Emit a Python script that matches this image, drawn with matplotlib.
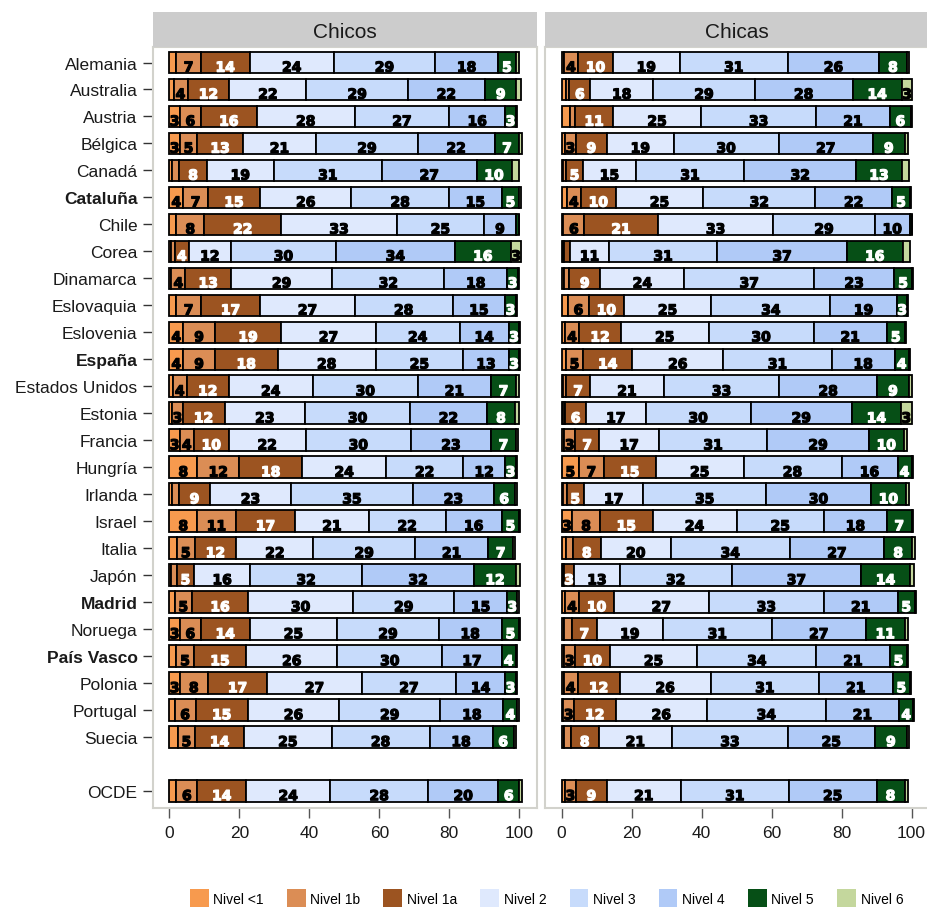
import matplotlib
matplotlib.use('Agg')
import matplotlib.pyplot as plt
from matplotlib.patches import Patch
import matplotlib.patheffects as pe
import numpy as np

plt.rcParams['font.family'] = ['Liberation Sans', 'DejaVu Sans']

paises = ['Alemania', 'Australia', 'Austria', 'Bélgica', 'Canadá', 'Cataluña', 'Chile',
          'Corea', 'Dinamarca', 'Eslovaquia', 'Eslovenia', 'España', 'Estados Unidos',
          'Estonia', 'Francia', 'Hungría', 'Irlanda', 'Israel', 'Italia', 'Japón',
          'Madrid', 'Noruega', 'País Vasco', 'Polonia', 'Portugal', 'Suecia', 'OCDE']
destacados = ['Cataluña', 'España', 'Madrid', 'País Vasco']
niveles = ['Nivel <1', 'Nivel 1b', 'Nivel 1a', 'Nivel 2', 'Nivel 3', 'Nivel 4', 'Nivel 5', 'Nivel 6']
colores = ['#f79a4e', '#db8d55', '#9c5421', '#dfe9fd', '#c7dbfb', '#b0caf7', '#064f16', '#c4d79d']

# porcentajes de alumnos por nivel (chicos)
chicos_n0 = [2, 1.2, 3, 3, 0.8, 4, 2, 0.4, 0.6, 2, 4, 4, 1, 0.8, 3, 8, 0.7, 8, 2.2, 0.6, 1.5, 3, 2, 3, 1.5, 2.4, 2]
chicos_n1b = [7, 4, 6, 5, 2, 7, 8, 1.2, 4, 7, 9, 9, 4, 3, 4, 12, 2, 11, 5, 1.5, 5, 6, 5, 8, 6, 5, 6]
chicos_n1a = [14, 12, 16, 13, 8, 15, 22, 4, 13, 17, 19, 18, 12, 12, 10, 18, 9, 17, 12, 5, 16, 14, 15, 17, 15, 14, 14]
chicos_n2 = [24, 22, 28, 21, 19, 26, 33, 12, 29, 27, 27, 28, 24, 23, 22, 24, 23, 21, 22, 16, 30, 25, 26, 27, 26, 25, 24]
chicos_n3 = [29, 29, 27, 29, 31, 28, 25, 30, 32, 28, 24, 25, 30, 30, 30, 22, 35, 22, 29, 32, 29, 29, 30, 27, 29, 28, 28]
chicos_n4 = [18, 22, 16, 22, 27, 15, 9, 34, 18, 15, 14, 13, 21, 22, 23, 12, 23, 16, 21, 32, 15, 18, 17, 14, 18, 18, 20]
chicos_n5 = [5, 9, 3, 7, 10, 5, 0.8, 16, 3, 3, 3, 3, 7, 8, 7, 3, 6, 5, 7, 12, 3, 5, 4, 3, 4, 6, 6]
chicos_n6 = [0.8, 1.2, 0.5, 0.8, 2, 0.4, 0.1, 3, 0.4, 0.3, 0.3, 0.3, 0.8, 1, 0.6, 0.3, 0.8, 0.3, 0.6, 1, 0.3, 0.3, 0.3, 0.3, 0.3, 0.7, 0.8]

# porcentajes de alumnas por nivel (chicas)
chicas_n0 = [0.7, 1.2, 2.3, 1, 0.4, 1.5, 0.5, 0.3, 0.6, 1.8, 1, 1.2, 0.4, 0.4, 0.8, 5, 0.4, 3, 1.2, 0.3, 1, 0.6, 0.8, 0.6, 0.5, 0.6, 1]
chicas_n1b = [4, 1, 1.5, 3, 0.8, 4, 6, 0.5, 1.5, 6, 4, 5, 0.8, 0.6, 3, 7, 1, 8, 2, 0.3, 4, 2.4, 3, 4, 3, 2, 3]
chicas_n1a = [10, 6, 11, 9, 5, 10, 21, 1.7, 9, 10, 12, 14, 7, 6, 7, 15, 5, 15, 8, 3, 10, 7, 10, 12, 12, 8, 9]
chicas_n2 = [19, 18, 25, 19, 15, 25, 33, 11, 24, 25, 25, 26, 21, 17, 17, 25, 17, 24, 20, 13, 27, 19, 25, 26, 26, 21, 21]
chicas_n3 = [31, 29, 33, 30, 31, 32, 29, 31, 37, 34, 30, 31, 33, 30, 31, 28, 35, 25, 34, 32, 33, 31, 34, 31, 34, 33, 31]
chicas_n4 = [26, 28, 21, 27, 32, 22, 10, 37, 23, 19, 21, 18, 28, 29, 29, 16, 30, 18, 27, 37, 21, 27, 21, 21, 21, 25, 25]
chicas_n5 = [8, 14, 6, 9, 13, 5, 0.5, 16, 5, 3, 5, 4, 9, 14, 10, 4, 10, 7, 8, 14, 5, 11, 5, 5, 4, 9, 8]
chicas_n6 = [0.7, 3, 0.3, 1, 2.2, 0.3, 0.1, 2, 0.3, 0.3, 0.5, 0.3, 1, 3, 1, 0.3, 1, 0.3, 0.8, 1, 0.3, 1, 0.3, 0.3, 0.3, 0.7, 1]

chicos = [chicos_n0, chicos_n1b, chicos_n1a, chicos_n2, chicos_n3, chicos_n4, chicos_n5, chicos_n6]
chicas = [chicas_n0, chicas_n1b, chicas_n1a, chicas_n2, chicas_n3, chicas_n4, chicas_n5, chicas_n6]

W, H = 928, 912
fig = plt.figure(figsize=(W / 100, H / 100), dpi=100)

# filas: los paises y, tras un hueco, la OCDE
filas = list(range(len(paises) - 1)) + [len(paises)]


def px(x0, y0, x1, y1):
    return [x0 / W, 1 - y1 / H, (x1 - x0) / W, (y1 - y0) / H]


def panel(x0, datos, titulo, etiquetas):
    ax = fig.add_axes(px(x0, 48, x0 + 384, 809))
    izq = np.zeros(len(paises))
    for i, serie in enumerate(datos):
        v = np.array(serie, dtype=float)
        ax.barh(filas, v, left=izq, height=0.8, color=colores[i],
                edgecolor='black', linewidth=1.3, zorder=2)
        tcolor = 'white' if i in (2, 6) else 'black'
        for y, l, w in zip(filas, izq, v):
            if w >= 2.5:
                ax.text(l + w / 2, y + 0.34, f'{w:.0f}', ha='center', va='baseline',
                        color=tcolor, fontsize=10, fontweight='bold',
                        family='DejaVu Sans', zorder=3,
                        path_effects=[pe.withStroke(linewidth=0.9, foreground=tcolor)])
        izq = izq + v
    ax.set_xlim(-4.75, 105)
    ax.set_ylim(27.63, -0.575)
    ax.set_xticks([0, 20, 40, 60, 80, 100])
    ax.tick_params(axis='x', length=7, width=1, color='#555555', labelsize=12.5,
                   pad=5, labelcolor='#1a1a1a')
    if etiquetas:
        ax.set_yticks(filas)
        ax.set_yticklabels(paises)
        ax.tick_params(axis='y', length=7, width=1, color='#333333', labelsize=12.5,
                       pad=4, labelcolor='#1a1a1a')
        for t in ax.get_yticklabels():
            if t.get_text() in destacados:
                t.set_fontweight('bold')
    else:
        ax.set_yticks([])
    for s in ax.spines.values():
        s.set_color('#d2d2cc')
        s.set_linewidth(1.5)

    tira = fig.add_axes(px(x0, 12.7, x0 + 384, 48))
    tira.set_facecolor('#cccccc')
    tira.set_xticks([])
    tira.set_yticks([])
    for s in tira.spines.values():
        s.set_visible(False)
    tira.text(0.5, 0.45, titulo, ha='center', va='center', fontsize=15, color='#1a1a1a')
    return ax


panel(152.7, chicos, 'Chicos', True)
panel(545, chicas, 'Chicas', False)

manejadores = [Patch(facecolor=c, edgecolor='none', label=n) for c, n in zip(colores, niveles)]
fig.legend(handles=manejadores, loc='center', bbox_to_anchor=(546.5 / W, 1 - 899 / H),
           ncol=8, frameon=False, fontsize=10, handlelength=1.35, handleheight=1.7,
           handletextpad=0.35, columnspacing=1.65, borderaxespad=0)

fig.savefig('out.png', dpi=100)
